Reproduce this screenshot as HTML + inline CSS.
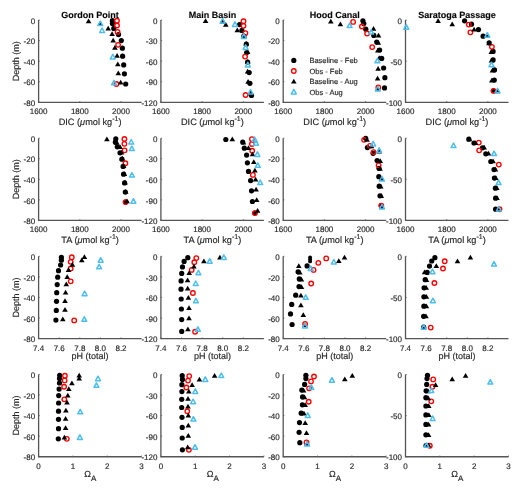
<!DOCTYPE html><html><head><meta charset="utf-8"><style>html,body{margin:0;padding:0;background:#fff;overflow:hidden}svg{display:block;filter:blur(0.35px)}text{font-family:"Liberation Sans",sans-serif;text-rendering:geometricPrecision;stroke:#262626;stroke-width:0.15px}</style></head><body>
<svg width="520" height="492" viewBox="0 0 520 492">
<rect width="520" height="492" fill="#fff"/>
<path d="M38.6,20 V102.3 H141.6" fill="none" stroke="#555555" stroke-width="1.3"/>
<path d="M38.6,20 h1.2" stroke="#555555" stroke-width="0.8"/>
<text x="35.1" y="23.7" font-size="8" fill="#262626" text-anchor="end">0</text>
<path d="M38.6,40.58 h1.2" stroke="#555555" stroke-width="0.8"/>
<text x="35.1" y="44.28" font-size="8" fill="#262626" text-anchor="end">-20</text>
<path d="M38.6,61.15 h1.2" stroke="#555555" stroke-width="0.8"/>
<text x="35.1" y="64.85" font-size="8" fill="#262626" text-anchor="end">-40</text>
<path d="M38.6,81.72 h1.2" stroke="#555555" stroke-width="0.8"/>
<text x="35.1" y="85.42" font-size="8" fill="#262626" text-anchor="end">-60</text>
<path d="M38.6,102.3 h1.2" stroke="#555555" stroke-width="0.8"/>
<text x="35.1" y="106" font-size="8" fill="#262626" text-anchor="end">-80</text>
<path d="M38.6,102.3 v-1.2" stroke="#555555" stroke-width="0.8"/>
<text x="38.6" y="114.2" font-size="8" fill="#262626" text-anchor="middle">1600</text>
<path d="M79.8,102.3 v-1.2" stroke="#555555" stroke-width="0.8"/>
<text x="79.8" y="114.2" font-size="8" fill="#262626" text-anchor="middle">1800</text>
<path d="M121,102.3 v-1.2" stroke="#555555" stroke-width="0.8"/>
<text x="121" y="114.2" font-size="8" fill="#262626" text-anchor="middle">2000</text>
<circle cx="112.4" cy="20.7" r="2.6" fill="#000"/>
<circle cx="112.4" cy="23.5" r="2.6" fill="#000"/>
<circle cx="113.8" cy="28.4" r="2.6" fill="#000"/>
<circle cx="118.5" cy="34.6" r="2.6" fill="#000"/>
<circle cx="121.3" cy="40.6" r="2.6" fill="#000"/>
<circle cx="122.4" cy="48.2" r="2.6" fill="#000"/>
<circle cx="122.6" cy="56.2" r="2.6" fill="#000"/>
<circle cx="123.7" cy="64.9" r="2.6" fill="#000"/>
<circle cx="124.4" cy="73.8" r="2.6" fill="#000"/>
<circle cx="125.7" cy="84" r="2.6" fill="#000"/>
<circle cx="117" cy="20.7" r="2.25" fill="none" stroke="#FF0000" stroke-width="1.35"/>
<circle cx="117" cy="25.5" r="2.25" fill="none" stroke="#FF0000" stroke-width="1.35"/>
<circle cx="117.6" cy="31.9" r="2.25" fill="none" stroke="#FF0000" stroke-width="1.35"/>
<circle cx="118.1" cy="44.8" r="2.25" fill="none" stroke="#FF0000" stroke-width="1.35"/>
<circle cx="116.4" cy="84" r="2.25" fill="none" stroke="#FF0000" stroke-width="1.35"/>
<path d="M88.6,18.55L91.4,23.3H85.8Z" fill="#000"/>
<path d="M100.3,21.25L103.1,26H97.5Z" fill="#000"/>
<path d="M108.2,25.65L111,30.4H105.4Z" fill="#000"/>
<path d="M112.1,31.25L114.9,36H109.3Z" fill="#000"/>
<path d="M113.2,37.85L116,42.6H110.4Z" fill="#000"/>
<path d="M114.9,45.05L117.7,49.8H112.1Z" fill="#000"/>
<path d="M117.1,52.95L119.9,57.7H114.3Z" fill="#000"/>
<path d="M117.8,61.55L120.6,66.3H115Z" fill="#000"/>
<path d="M118.3,70.55L121.1,75.3H115.5Z" fill="#000"/>
<path d="M120.7,79.85L123.5,84.6H117.9Z" fill="#000"/>
<path d="M100.3,21.1L102.75,25.6H97.85Z" fill="none" stroke="#4DBEEE" stroke-width="1.5" stroke-linejoin="round"/>
<path d="M102.1,28L104.55,32.5H99.65Z" fill="none" stroke="#4DBEEE" stroke-width="1.5" stroke-linejoin="round"/>
<path d="M112.8,54.4L115.25,58.9H110.35Z" fill="none" stroke="#4DBEEE" stroke-width="1.5" stroke-linejoin="round"/>
<path d="M114,80.3L116.45,84.8H111.55Z" fill="none" stroke="#4DBEEE" stroke-width="1.5" stroke-linejoin="round"/>
<text x="90.1" y="124.9" font-size="9.2" fill="#262626" text-anchor="middle">DIC (<tspan font-style="italic">μ</tspan>mol kg<tspan font-size="7" dy="-4.3">-1</tspan><tspan dy="4.3">)</tspan></text>
<text transform="translate(19.2,61.15) rotate(-90)" x="0" y="0" font-size="9" fill="#262626" text-anchor="middle">Depth (m)</text>
<path d="M160.9,20 V102.3 H263.9" fill="none" stroke="#555555" stroke-width="1.3"/>
<path d="M160.9,20 h1.2" stroke="#555555" stroke-width="0.8"/>
<text x="157.4" y="23.7" font-size="8" fill="#262626" text-anchor="end">0</text>
<path d="M160.9,40.58 h1.2" stroke="#555555" stroke-width="0.8"/>
<text x="157.4" y="44.28" font-size="8" fill="#262626" text-anchor="end">-30</text>
<path d="M160.9,61.15 h1.2" stroke="#555555" stroke-width="0.8"/>
<text x="157.4" y="64.85" font-size="8" fill="#262626" text-anchor="end">-60</text>
<path d="M160.9,81.72 h1.2" stroke="#555555" stroke-width="0.8"/>
<text x="157.4" y="85.42" font-size="8" fill="#262626" text-anchor="end">-90</text>
<path d="M160.9,102.3 h1.2" stroke="#555555" stroke-width="0.8"/>
<text x="157.4" y="106" font-size="8" fill="#262626" text-anchor="end">-120</text>
<path d="M160.9,102.3 v-1.2" stroke="#555555" stroke-width="0.8"/>
<text x="160.9" y="114.2" font-size="8" fill="#262626" text-anchor="middle">1600</text>
<path d="M202.1,102.3 v-1.2" stroke="#555555" stroke-width="0.8"/>
<text x="202.1" y="114.2" font-size="8" fill="#262626" text-anchor="middle">1800</text>
<path d="M243.3,102.3 v-1.2" stroke="#555555" stroke-width="0.8"/>
<text x="243.3" y="114.2" font-size="8" fill="#262626" text-anchor="middle">2000</text>
<circle cx="239.6" cy="24.6" r="2.6" fill="#000"/>
<circle cx="241.9" cy="30.4" r="2.6" fill="#000"/>
<circle cx="243.8" cy="36.2" r="2.6" fill="#000"/>
<circle cx="246.3" cy="44.2" r="2.6" fill="#000"/>
<circle cx="246.7" cy="52.6" r="2.6" fill="#000"/>
<circle cx="247.6" cy="62.2" r="2.6" fill="#000"/>
<circle cx="249.2" cy="72.6" r="2.6" fill="#000"/>
<circle cx="249.9" cy="83.3" r="2.6" fill="#000"/>
<circle cx="251.5" cy="95.4" r="2.6" fill="#000"/>
<circle cx="243.5" cy="21.2" r="2.25" fill="none" stroke="#FF0000" stroke-width="1.35"/>
<circle cx="243.5" cy="25.8" r="2.25" fill="none" stroke="#FF0000" stroke-width="1.35"/>
<circle cx="245.4" cy="33.1" r="2.25" fill="none" stroke="#FF0000" stroke-width="1.35"/>
<circle cx="245.1" cy="56.6" r="2.25" fill="none" stroke="#FF0000" stroke-width="1.35"/>
<circle cx="245.6" cy="95" r="2.25" fill="none" stroke="#FF0000" stroke-width="1.35"/>
<path d="M205.6,18.25L208.4,23H202.8Z" fill="#000"/>
<path d="M222.3,18.65L225.1,23.4H219.5Z" fill="#000"/>
<path d="M225.8,22.05L228.6,26.8H223Z" fill="#000"/>
<path d="M237.3,27.45L240.1,32.2H234.5Z" fill="#000"/>
<path d="M244,33.25L246.8,38H241.2Z" fill="#000"/>
<path d="M246.2,40.95L249,45.7H243.4Z" fill="#000"/>
<path d="M247.6,49.35L250.4,54.1H244.8Z" fill="#000"/>
<path d="M247.8,58.95L250.6,63.7H245Z" fill="#000"/>
<path d="M247.6,68.65L250.4,73.4H244.8Z" fill="#000"/>
<path d="M248.1,78.95L250.9,83.7H245.3Z" fill="#000"/>
<path d="M250.6,90.45L253.4,95.2H247.8Z" fill="#000"/>
<path d="M222.7,18.5L225.15,23H220.25Z" fill="none" stroke="#4DBEEE" stroke-width="1.5" stroke-linejoin="round"/>
<path d="M235,21.9L237.45,26.4H232.55Z" fill="none" stroke="#4DBEEE" stroke-width="1.5" stroke-linejoin="round"/>
<path d="M243.8,33.9L246.25,38.4H241.35Z" fill="none" stroke="#4DBEEE" stroke-width="1.5" stroke-linejoin="round"/>
<path d="M245.6,44.9L248.05,49.4H243.15Z" fill="none" stroke="#4DBEEE" stroke-width="1.5" stroke-linejoin="round"/>
<path d="M247.8,62.4L250.25,66.9H245.35Z" fill="none" stroke="#4DBEEE" stroke-width="1.5" stroke-linejoin="round"/>
<path d="M250.6,89.5L253.05,94H248.15Z" fill="none" stroke="#4DBEEE" stroke-width="1.5" stroke-linejoin="round"/>
<text x="212.4" y="124.9" font-size="9.2" fill="#262626" text-anchor="middle">DIC (<tspan font-style="italic">μ</tspan>mol kg<tspan font-size="7" dy="-4.3">-1</tspan><tspan dy="4.3">)</tspan></text>
<path d="M283.2,20 V102.3 H386.2" fill="none" stroke="#555555" stroke-width="1.3"/>
<path d="M283.2,20 h1.2" stroke="#555555" stroke-width="0.8"/>
<text x="279.7" y="23.7" font-size="8" fill="#262626" text-anchor="end">0</text>
<path d="M283.2,40.58 h1.2" stroke="#555555" stroke-width="0.8"/>
<text x="279.7" y="44.28" font-size="8" fill="#262626" text-anchor="end">-20</text>
<path d="M283.2,61.15 h1.2" stroke="#555555" stroke-width="0.8"/>
<text x="279.7" y="64.85" font-size="8" fill="#262626" text-anchor="end">-40</text>
<path d="M283.2,81.72 h1.2" stroke="#555555" stroke-width="0.8"/>
<text x="279.7" y="85.42" font-size="8" fill="#262626" text-anchor="end">-60</text>
<path d="M283.2,102.3 h1.2" stroke="#555555" stroke-width="0.8"/>
<text x="279.7" y="106" font-size="8" fill="#262626" text-anchor="end">-80</text>
<path d="M283.2,102.3 v-1.2" stroke="#555555" stroke-width="0.8"/>
<text x="283.2" y="114.2" font-size="8" fill="#262626" text-anchor="middle">1600</text>
<path d="M324.4,102.3 v-1.2" stroke="#555555" stroke-width="0.8"/>
<text x="324.4" y="114.2" font-size="8" fill="#262626" text-anchor="middle">1800</text>
<path d="M365.6,102.3 v-1.2" stroke="#555555" stroke-width="0.8"/>
<text x="365.6" y="114.2" font-size="8" fill="#262626" text-anchor="middle">2000</text>
<circle cx="362.9" cy="20.8" r="2.6" fill="#000"/>
<circle cx="363.8" cy="23.5" r="2.6" fill="#000"/>
<circle cx="365.8" cy="29.2" r="2.6" fill="#000"/>
<circle cx="373.8" cy="35.4" r="2.6" fill="#000"/>
<circle cx="376.7" cy="42.1" r="2.6" fill="#000"/>
<circle cx="379.6" cy="50" r="2.6" fill="#000"/>
<circle cx="381.7" cy="58.4" r="2.6" fill="#000"/>
<circle cx="383.6" cy="68" r="2.6" fill="#000"/>
<circle cx="384.9" cy="77.7" r="2.6" fill="#000"/>
<circle cx="384.5" cy="87.9" r="2.6" fill="#000"/>
<circle cx="353.1" cy="21.9" r="2.25" fill="none" stroke="#FF0000" stroke-width="1.35"/>
<circle cx="361.9" cy="26.5" r="2.25" fill="none" stroke="#FF0000" stroke-width="1.35"/>
<circle cx="367.1" cy="33.5" r="2.25" fill="none" stroke="#FF0000" stroke-width="1.35"/>
<circle cx="372.2" cy="47.1" r="2.25" fill="none" stroke="#FF0000" stroke-width="1.35"/>
<circle cx="378.3" cy="87.4" r="2.25" fill="none" stroke="#FF0000" stroke-width="1.35"/>
<path d="M330.8,18.65L333.6,23.4H328Z" fill="#000"/>
<path d="M340.4,21.55L343.2,26.3H337.6Z" fill="#000"/>
<path d="M373.5,25.95L376.3,30.7H370.7Z" fill="#000"/>
<path d="M378.5,32.65L381.3,37.4H375.7Z" fill="#000"/>
<path d="M378.3,39.95L381.1,44.7H375.5Z" fill="#000"/>
<path d="M377.8,47.75L380.6,52.5H375Z" fill="#000"/>
<path d="M379.2,55.25L382,60H376.4Z" fill="#000"/>
<path d="M378.1,66.05L380.9,70.8H375.3Z" fill="#000"/>
<path d="M377.6,75.65L380.4,80.4H374.8Z" fill="#000"/>
<path d="M377.8,86.05L380.6,90.8H375Z" fill="#000"/>
<path d="M349.6,23.1L352.05,27.6H347.15Z" fill="none" stroke="#4DBEEE" stroke-width="1.5" stroke-linejoin="round"/>
<path d="M371.2,29.6L373.65,34.1H368.75Z" fill="none" stroke="#4DBEEE" stroke-width="1.5" stroke-linejoin="round"/>
<path d="M377.4,58.3L379.85,62.8H374.95Z" fill="none" stroke="#4DBEEE" stroke-width="1.5" stroke-linejoin="round"/>
<path d="M377.8,86.5L380.25,91H375.35Z" fill="none" stroke="#4DBEEE" stroke-width="1.5" stroke-linejoin="round"/>
<text x="334.7" y="124.9" font-size="9.2" fill="#262626" text-anchor="middle">DIC (<tspan font-style="italic">μ</tspan>mol kg<tspan font-size="7" dy="-4.3">-1</tspan><tspan dy="4.3">)</tspan></text>
<path d="M405.5,20 V102.3 H508.5" fill="none" stroke="#555555" stroke-width="1.3"/>
<path d="M405.5,20 h1.2" stroke="#555555" stroke-width="0.8"/>
<text x="402" y="23.7" font-size="8" fill="#262626" text-anchor="end">0</text>
<path d="M405.5,61.15 h1.2" stroke="#555555" stroke-width="0.8"/>
<text x="402" y="64.85" font-size="8" fill="#262626" text-anchor="end">-50</text>
<path d="M405.5,102.3 h1.2" stroke="#555555" stroke-width="0.8"/>
<text x="402" y="106" font-size="8" fill="#262626" text-anchor="end">-100</text>
<path d="M405.5,102.3 v-1.2" stroke="#555555" stroke-width="0.8"/>
<text x="405.5" y="114.2" font-size="8" fill="#262626" text-anchor="middle">1600</text>
<path d="M446.7,102.3 v-1.2" stroke="#555555" stroke-width="0.8"/>
<text x="446.7" y="114.2" font-size="8" fill="#262626" text-anchor="middle">1800</text>
<path d="M487.9,102.3 v-1.2" stroke="#555555" stroke-width="0.8"/>
<text x="487.9" y="114.2" font-size="8" fill="#262626" text-anchor="middle">2000</text>
<circle cx="464.6" cy="20.8" r="2.6" fill="#000"/>
<circle cx="471.5" cy="24.2" r="2.6" fill="#000"/>
<circle cx="478.5" cy="29.6" r="2.6" fill="#000"/>
<circle cx="483.1" cy="36.2" r="2.6" fill="#000"/>
<circle cx="489.2" cy="42.8" r="2.6" fill="#000"/>
<circle cx="493.1" cy="51.4" r="2.6" fill="#000"/>
<circle cx="493.1" cy="59.9" r="2.6" fill="#000"/>
<circle cx="494.5" cy="69.9" r="2.6" fill="#000"/>
<circle cx="494.3" cy="80.1" r="2.6" fill="#000"/>
<circle cx="493.5" cy="90.8" r="2.6" fill="#000"/>
<circle cx="468.8" cy="24.6" r="2.25" fill="none" stroke="#FF0000" stroke-width="1.35"/>
<circle cx="470.4" cy="32.3" r="2.25" fill="none" stroke="#FF0000" stroke-width="1.35"/>
<circle cx="491.9" cy="46.8" r="2.25" fill="none" stroke="#FF0000" stroke-width="1.35"/>
<circle cx="493.5" cy="90.8" r="2.25" fill="none" stroke="#FF0000" stroke-width="1.35"/>
<path d="M438.1,18.15L440.9,22.9H435.3Z" fill="#000"/>
<path d="M452.2,21.55L455,26.3H449.4Z" fill="#000"/>
<path d="M474.1,26.65L476.9,31.4H471.3Z" fill="#000"/>
<path d="M487.3,32.85L490.1,37.6H484.5Z" fill="#000"/>
<path d="M489,40.45L491.8,45.2H486.2Z" fill="#000"/>
<path d="M491.3,49.15L494.1,53.9H488.5Z" fill="#000"/>
<path d="M491.5,57.65L494.3,62.4H488.7Z" fill="#000"/>
<path d="M492.4,67.65L495.2,72.4H489.6Z" fill="#000"/>
<path d="M491.8,77.65L494.6,82.4H489Z" fill="#000"/>
<path d="M497.6,88.45L500.4,93.2H494.8Z" fill="#000"/>
<path d="M406.3,24.7L408.75,29.2H403.85Z" fill="none" stroke="#4DBEEE" stroke-width="1.5" stroke-linejoin="round"/>
<path d="M487.3,32.7L489.75,37.2H484.85Z" fill="none" stroke="#4DBEEE" stroke-width="1.5" stroke-linejoin="round"/>
<path d="M491.5,62.2L493.95,66.7H489.05Z" fill="none" stroke="#4DBEEE" stroke-width="1.5" stroke-linejoin="round"/>
<path d="M497.6,88.3L500.05,92.8H495.15Z" fill="none" stroke="#4DBEEE" stroke-width="1.5" stroke-linejoin="round"/>
<text x="457" y="124.9" font-size="9.2" fill="#262626" text-anchor="middle">DIC (<tspan font-style="italic">μ</tspan>mol kg<tspan font-size="7" dy="-4.3">-1</tspan><tspan dy="4.3">)</tspan></text>
<path d="M38.6,138.15 V220.45 H141.6" fill="none" stroke="#555555" stroke-width="1.3"/>
<path d="M38.6,138.15 h1.2" stroke="#555555" stroke-width="0.8"/>
<text x="35.1" y="141.85" font-size="8" fill="#262626" text-anchor="end">0</text>
<path d="M38.6,158.72 h1.2" stroke="#555555" stroke-width="0.8"/>
<text x="35.1" y="162.42" font-size="8" fill="#262626" text-anchor="end">-20</text>
<path d="M38.6,179.3 h1.2" stroke="#555555" stroke-width="0.8"/>
<text x="35.1" y="183" font-size="8" fill="#262626" text-anchor="end">-40</text>
<path d="M38.6,199.88 h1.2" stroke="#555555" stroke-width="0.8"/>
<text x="35.1" y="203.57" font-size="8" fill="#262626" text-anchor="end">-60</text>
<path d="M38.6,220.45 h1.2" stroke="#555555" stroke-width="0.8"/>
<text x="35.1" y="224.15" font-size="8" fill="#262626" text-anchor="end">-80</text>
<path d="M38.6,220.45 v-1.2" stroke="#555555" stroke-width="0.8"/>
<text x="38.6" y="232.35" font-size="8" fill="#262626" text-anchor="middle">1600</text>
<path d="M79.8,220.45 v-1.2" stroke="#555555" stroke-width="0.8"/>
<text x="79.8" y="232.35" font-size="8" fill="#262626" text-anchor="middle">1800</text>
<path d="M121,220.45 v-1.2" stroke="#555555" stroke-width="0.8"/>
<text x="121" y="232.35" font-size="8" fill="#262626" text-anchor="middle">2000</text>
<circle cx="115.8" cy="138.8" r="2.6" fill="#000"/>
<circle cx="115.4" cy="142.2" r="2.6" fill="#000"/>
<circle cx="117.3" cy="146.8" r="2.6" fill="#000"/>
<circle cx="120" cy="152.8" r="2.6" fill="#000"/>
<circle cx="121.9" cy="159.2" r="2.6" fill="#000"/>
<circle cx="123.1" cy="166.4" r="2.6" fill="#000"/>
<circle cx="123.6" cy="174.2" r="2.6" fill="#000"/>
<circle cx="124.6" cy="182.9" r="2.6" fill="#000"/>
<circle cx="125.3" cy="192.1" r="2.6" fill="#000"/>
<circle cx="125.6" cy="202.1" r="2.6" fill="#000"/>
<circle cx="124.4" cy="139" r="2.25" fill="none" stroke="#FF0000" stroke-width="1.35"/>
<circle cx="124.4" cy="143.8" r="2.25" fill="none" stroke="#FF0000" stroke-width="1.35"/>
<circle cx="124.6" cy="150.3" r="2.25" fill="none" stroke="#FF0000" stroke-width="1.35"/>
<circle cx="125.4" cy="163.2" r="2.25" fill="none" stroke="#FF0000" stroke-width="1.35"/>
<circle cx="125.6" cy="202.1" r="2.25" fill="none" stroke="#FF0000" stroke-width="1.35"/>
<path d="M106.9,136.45L109.7,141.2H104.1Z" fill="#000"/>
<path d="M116.9,140.05L119.7,144.8H114.1Z" fill="#000"/>
<path d="M120,144.25L122.8,149H117.2Z" fill="#000"/>
<path d="M121.5,149.65L124.3,154.4H118.7Z" fill="#000"/>
<path d="M122.3,155.85L125.1,160.6H119.5Z" fill="#000"/>
<path d="M123.6,163.25L126.4,168H120.8Z" fill="#000"/>
<path d="M124.4,171.25L127.2,176H121.6Z" fill="#000"/>
<path d="M125.1,179.75L127.9,184.5H122.3Z" fill="#000"/>
<path d="M125.8,189.05L128.6,193.8H123Z" fill="#000"/>
<path d="M127,198.45L129.8,203.2H124.2Z" fill="#000"/>
<path d="M131.2,139.5L133.65,144H128.75Z" fill="none" stroke="#4DBEEE" stroke-width="1.5" stroke-linejoin="round"/>
<path d="M131.8,146.1L134.25,150.6H129.35Z" fill="none" stroke="#4DBEEE" stroke-width="1.5" stroke-linejoin="round"/>
<path d="M131.9,172.6L134.35,177.1H129.45Z" fill="none" stroke="#4DBEEE" stroke-width="1.5" stroke-linejoin="round"/>
<path d="M133.4,198.7L135.85,203.2H130.95Z" fill="none" stroke="#4DBEEE" stroke-width="1.5" stroke-linejoin="round"/>
<text x="90.1" y="243.05" font-size="9.2" fill="#262626" text-anchor="middle">TA (<tspan font-style="italic">μ</tspan>mol kg<tspan font-size="7" dy="-4.3">-1</tspan><tspan dy="4.3">)</tspan></text>
<text transform="translate(19.2,179.3) rotate(-90)" x="0" y="0" font-size="9" fill="#262626" text-anchor="middle">Depth (m)</text>
<path d="M160.9,138.15 V220.45 H263.9" fill="none" stroke="#555555" stroke-width="1.3"/>
<path d="M160.9,138.15 h1.2" stroke="#555555" stroke-width="0.8"/>
<text x="157.4" y="141.85" font-size="8" fill="#262626" text-anchor="end">0</text>
<path d="M160.9,158.72 h1.2" stroke="#555555" stroke-width="0.8"/>
<text x="157.4" y="162.42" font-size="8" fill="#262626" text-anchor="end">-30</text>
<path d="M160.9,179.3 h1.2" stroke="#555555" stroke-width="0.8"/>
<text x="157.4" y="183" font-size="8" fill="#262626" text-anchor="end">-60</text>
<path d="M160.9,199.88 h1.2" stroke="#555555" stroke-width="0.8"/>
<text x="157.4" y="203.57" font-size="8" fill="#262626" text-anchor="end">-90</text>
<path d="M160.9,220.45 h1.2" stroke="#555555" stroke-width="0.8"/>
<text x="157.4" y="224.15" font-size="8" fill="#262626" text-anchor="end">-120</text>
<path d="M160.9,220.45 v-1.2" stroke="#555555" stroke-width="0.8"/>
<text x="160.9" y="232.35" font-size="8" fill="#262626" text-anchor="middle">1600</text>
<path d="M202.1,220.45 v-1.2" stroke="#555555" stroke-width="0.8"/>
<text x="202.1" y="232.35" font-size="8" fill="#262626" text-anchor="middle">1800</text>
<path d="M243.3,220.45 v-1.2" stroke="#555555" stroke-width="0.8"/>
<text x="243.3" y="232.35" font-size="8" fill="#262626" text-anchor="middle">2000</text>
<circle cx="225.8" cy="139.5" r="2.6" fill="#000"/>
<circle cx="242.7" cy="142.1" r="2.6" fill="#000"/>
<circle cx="244.3" cy="148.2" r="2.6" fill="#000"/>
<circle cx="246.6" cy="155.1" r="2.6" fill="#000"/>
<circle cx="247.4" cy="162.8" r="2.6" fill="#000"/>
<circle cx="248.5" cy="171.4" r="2.6" fill="#000"/>
<circle cx="250.6" cy="180.6" r="2.6" fill="#000"/>
<circle cx="251.5" cy="190.8" r="2.6" fill="#000"/>
<circle cx="252.4" cy="201.5" r="2.6" fill="#000"/>
<circle cx="254.9" cy="213" r="2.6" fill="#000"/>
<circle cx="251.9" cy="139.1" r="2.25" fill="none" stroke="#FF0000" stroke-width="1.35"/>
<circle cx="251.9" cy="144" r="2.25" fill="none" stroke="#FF0000" stroke-width="1.35"/>
<circle cx="252.2" cy="150.7" r="2.25" fill="none" stroke="#FF0000" stroke-width="1.35"/>
<circle cx="252.9" cy="174.9" r="2.25" fill="none" stroke="#FF0000" stroke-width="1.35"/>
<circle cx="254.9" cy="213.1" r="2.25" fill="none" stroke="#FF0000" stroke-width="1.35"/>
<path d="M232.3,136.45L235.1,141.2H229.5Z" fill="#000"/>
<path d="M243.5,139.75L246.3,144.5H240.7Z" fill="#000"/>
<path d="M248.5,145.25L251.3,150H245.7Z" fill="#000"/>
<path d="M252.5,151.55L255.3,156.3H249.7Z" fill="#000"/>
<path d="M253.8,159.25L256.6,164H251Z" fill="#000"/>
<path d="M254.9,167.75L257.7,172.5H252.1Z" fill="#000"/>
<path d="M255.6,176.65L258.4,181.4H252.8Z" fill="#000"/>
<path d="M256.1,186.75L258.9,191.5H253.3Z" fill="#000"/>
<path d="M256.7,197.35L259.5,202.1H253.9Z" fill="#000"/>
<path d="M257.6,208.05L260.4,212.8H254.8Z" fill="#000"/>
<path d="M254.6,137L257.05,141.5H252.15Z" fill="none" stroke="#4DBEEE" stroke-width="1.5" stroke-linejoin="round"/>
<path d="M256,140.7L258.45,145.2H253.55Z" fill="none" stroke="#4DBEEE" stroke-width="1.5" stroke-linejoin="round"/>
<path d="M257.4,151.9L259.85,156.4H254.95Z" fill="none" stroke="#4DBEEE" stroke-width="1.5" stroke-linejoin="round"/>
<path d="M257.8,162.8L260.25,167.3H255.35Z" fill="none" stroke="#4DBEEE" stroke-width="1.5" stroke-linejoin="round"/>
<path d="M260.2,180.1L262.65,184.6H257.75Z" fill="none" stroke="#4DBEEE" stroke-width="1.5" stroke-linejoin="round"/>
<text x="212.4" y="243.05" font-size="9.2" fill="#262626" text-anchor="middle">TA (<tspan font-style="italic">μ</tspan>mol kg<tspan font-size="7" dy="-4.3">-1</tspan><tspan dy="4.3">)</tspan></text>
<path d="M283.2,138.15 V220.45 H386.2" fill="none" stroke="#555555" stroke-width="1.3"/>
<path d="M283.2,138.15 h1.2" stroke="#555555" stroke-width="0.8"/>
<text x="279.7" y="141.85" font-size="8" fill="#262626" text-anchor="end">0</text>
<path d="M283.2,158.72 h1.2" stroke="#555555" stroke-width="0.8"/>
<text x="279.7" y="162.42" font-size="8" fill="#262626" text-anchor="end">-20</text>
<path d="M283.2,179.3 h1.2" stroke="#555555" stroke-width="0.8"/>
<text x="279.7" y="183" font-size="8" fill="#262626" text-anchor="end">-40</text>
<path d="M283.2,199.88 h1.2" stroke="#555555" stroke-width="0.8"/>
<text x="279.7" y="203.57" font-size="8" fill="#262626" text-anchor="end">-60</text>
<path d="M283.2,220.45 h1.2" stroke="#555555" stroke-width="0.8"/>
<text x="279.7" y="224.15" font-size="8" fill="#262626" text-anchor="end">-80</text>
<path d="M283.2,220.45 v-1.2" stroke="#555555" stroke-width="0.8"/>
<text x="283.2" y="232.35" font-size="8" fill="#262626" text-anchor="middle">1600</text>
<path d="M324.4,220.45 v-1.2" stroke="#555555" stroke-width="0.8"/>
<text x="324.4" y="232.35" font-size="8" fill="#262626" text-anchor="middle">1800</text>
<path d="M365.6,220.45 v-1.2" stroke="#555555" stroke-width="0.8"/>
<text x="365.6" y="232.35" font-size="8" fill="#262626" text-anchor="middle">2000</text>
<circle cx="365.7" cy="138.3" r="2.6" fill="#000"/>
<circle cx="367.4" cy="147.6" r="2.6" fill="#000"/>
<circle cx="373.1" cy="153.3" r="2.6" fill="#000"/>
<circle cx="377.1" cy="160.6" r="2.6" fill="#000"/>
<circle cx="379" cy="168.3" r="2.6" fill="#000"/>
<circle cx="378.8" cy="176.7" r="2.6" fill="#000"/>
<circle cx="379.2" cy="186.2" r="2.6" fill="#000"/>
<circle cx="380" cy="195.8" r="2.6" fill="#000"/>
<circle cx="381.3" cy="205.6" r="2.6" fill="#000"/>
<circle cx="364.1" cy="139.8" r="2.25" fill="none" stroke="#FF0000" stroke-width="1.35"/>
<circle cx="369.9" cy="145.8" r="2.25" fill="none" stroke="#FF0000" stroke-width="1.35"/>
<circle cx="373.6" cy="152.1" r="2.25" fill="none" stroke="#FF0000" stroke-width="1.35"/>
<circle cx="378.6" cy="165.3" r="2.25" fill="none" stroke="#FF0000" stroke-width="1.35"/>
<circle cx="381.3" cy="205.6" r="2.25" fill="none" stroke="#FF0000" stroke-width="1.35"/>
<path d="M367,136.95L369.8,141.7H364.2Z" fill="#000"/>
<path d="M371.5,143.45L374.3,148.2H368.7Z" fill="#000"/>
<path d="M379.2,148.75L382,153.5H376.4Z" fill="#000"/>
<path d="M380.2,158.25L383,163H377.4Z" fill="#000"/>
<path d="M380,165.95L382.8,170.7H377.2Z" fill="#000"/>
<path d="M381.5,175.95L384.3,180.7H378.7Z" fill="#000"/>
<path d="M380.8,183.65L383.6,188.4H378Z" fill="#000"/>
<path d="M381.3,193.25L384.1,198H378.5Z" fill="#000"/>
<path d="M382,203.95L384.8,208.7H379.2Z" fill="#000"/>
<path d="M373.1,141.4L375.55,145.9H370.65Z" fill="none" stroke="#4DBEEE" stroke-width="1.5" stroke-linejoin="round"/>
<path d="M379.2,147.8L381.65,152.3H376.75Z" fill="none" stroke="#4DBEEE" stroke-width="1.5" stroke-linejoin="round"/>
<path d="M382,176.5L384.45,181H379.55Z" fill="none" stroke="#4DBEEE" stroke-width="1.5" stroke-linejoin="round"/>
<path d="M382,204.4L384.45,208.9H379.55Z" fill="none" stroke="#4DBEEE" stroke-width="1.5" stroke-linejoin="round"/>
<text x="334.7" y="243.05" font-size="9.2" fill="#262626" text-anchor="middle">TA (<tspan font-style="italic">μ</tspan>mol kg<tspan font-size="7" dy="-4.3">-1</tspan><tspan dy="4.3">)</tspan></text>
<path d="M405.5,138.15 V220.45 H508.5" fill="none" stroke="#555555" stroke-width="1.3"/>
<path d="M405.5,138.15 h1.2" stroke="#555555" stroke-width="0.8"/>
<text x="402" y="141.85" font-size="8" fill="#262626" text-anchor="end">0</text>
<path d="M405.5,179.3 h1.2" stroke="#555555" stroke-width="0.8"/>
<text x="402" y="183" font-size="8" fill="#262626" text-anchor="end">-50</text>
<path d="M405.5,220.45 h1.2" stroke="#555555" stroke-width="0.8"/>
<text x="402" y="224.15" font-size="8" fill="#262626" text-anchor="end">-100</text>
<path d="M405.5,220.45 v-1.2" stroke="#555555" stroke-width="0.8"/>
<text x="405.5" y="232.35" font-size="8" fill="#262626" text-anchor="middle">1600</text>
<path d="M446.7,220.45 v-1.2" stroke="#555555" stroke-width="0.8"/>
<text x="446.7" y="232.35" font-size="8" fill="#262626" text-anchor="middle">1800</text>
<path d="M487.9,220.45 v-1.2" stroke="#555555" stroke-width="0.8"/>
<text x="487.9" y="232.35" font-size="8" fill="#262626" text-anchor="middle">2000</text>
<circle cx="468.8" cy="139.2" r="2.6" fill="#000"/>
<circle cx="474" cy="143" r="2.6" fill="#000"/>
<circle cx="482.5" cy="147.8" r="2.6" fill="#000"/>
<circle cx="485.8" cy="153.8" r="2.6" fill="#000"/>
<circle cx="490.8" cy="161.5" r="2.6" fill="#000"/>
<circle cx="494" cy="169.6" r="2.6" fill="#000"/>
<circle cx="494.4" cy="178.1" r="2.6" fill="#000"/>
<circle cx="495.4" cy="188.2" r="2.6" fill="#000"/>
<circle cx="495.6" cy="198.2" r="2.6" fill="#000"/>
<circle cx="495.6" cy="209.2" r="2.6" fill="#000"/>
<circle cx="478.8" cy="142.6" r="2.25" fill="none" stroke="#FF0000" stroke-width="1.35"/>
<circle cx="479.2" cy="150.3" r="2.25" fill="none" stroke="#FF0000" stroke-width="1.35"/>
<circle cx="498.8" cy="164.6" r="2.25" fill="none" stroke="#FF0000" stroke-width="1.35"/>
<circle cx="499.5" cy="209.2" r="2.25" fill="none" stroke="#FF0000" stroke-width="1.35"/>
<path d="M469.5,136.45L472.3,141.2H466.7Z" fill="#000"/>
<path d="M475.5,140.25L478.3,145H472.7Z" fill="#000"/>
<path d="M484.2,144.85L487,149.6H481.4Z" fill="#000"/>
<path d="M488.5,150.85L491.3,155.6H485.7Z" fill="#000"/>
<path d="M493.1,158.55L495.9,163.3H490.3Z" fill="#000"/>
<path d="M495.5,166.85L498.3,171.6H492.7Z" fill="#000"/>
<path d="M495.8,175.35L498.6,180.1H493Z" fill="#000"/>
<path d="M496.8,185.35L499.6,190.1H494Z" fill="#000"/>
<path d="M497,195.35L499.8,200.1H494.2Z" fill="#000"/>
<path d="M498.5,206.45L501.3,211.2H495.7Z" fill="#000"/>
<path d="M453.5,143L455.95,147.5H451.05Z" fill="none" stroke="#4DBEEE" stroke-width="1.5" stroke-linejoin="round"/>
<path d="M494.1,151.1L496.55,155.6H491.65Z" fill="none" stroke="#4DBEEE" stroke-width="1.5" stroke-linejoin="round"/>
<path d="M498.6,180.1L501.05,184.6H496.15Z" fill="none" stroke="#4DBEEE" stroke-width="1.5" stroke-linejoin="round"/>
<path d="M498.8,206.5L501.25,211H496.35Z" fill="none" stroke="#4DBEEE" stroke-width="1.5" stroke-linejoin="round"/>
<text x="457" y="243.05" font-size="9.2" fill="#262626" text-anchor="middle">TA (<tspan font-style="italic">μ</tspan>mol kg<tspan font-size="7" dy="-4.3">-1</tspan><tspan dy="4.3">)</tspan></text>
<path d="M38.6,256.3 V338.6 H141.6" fill="none" stroke="#555555" stroke-width="1.3"/>
<path d="M38.6,256.3 h1.2" stroke="#555555" stroke-width="0.8"/>
<text x="35.1" y="260" font-size="8" fill="#262626" text-anchor="end">0</text>
<path d="M38.6,276.88 h1.2" stroke="#555555" stroke-width="0.8"/>
<text x="35.1" y="280.57" font-size="8" fill="#262626" text-anchor="end">-20</text>
<path d="M38.6,297.45 h1.2" stroke="#555555" stroke-width="0.8"/>
<text x="35.1" y="301.15" font-size="8" fill="#262626" text-anchor="end">-40</text>
<path d="M38.6,318.02 h1.2" stroke="#555555" stroke-width="0.8"/>
<text x="35.1" y="321.72" font-size="8" fill="#262626" text-anchor="end">-60</text>
<path d="M38.6,338.6 h1.2" stroke="#555555" stroke-width="0.8"/>
<text x="35.1" y="342.3" font-size="8" fill="#262626" text-anchor="end">-80</text>
<path d="M38.6,338.6 v-1.2" stroke="#555555" stroke-width="0.8"/>
<text x="38.6" y="350.5" font-size="8" fill="#262626" text-anchor="middle">7.4</text>
<path d="M59.2,338.6 v-1.2" stroke="#555555" stroke-width="0.8"/>
<text x="59.2" y="350.5" font-size="8" fill="#262626" text-anchor="middle">7.6</text>
<path d="M79.8,338.6 v-1.2" stroke="#555555" stroke-width="0.8"/>
<text x="79.8" y="350.5" font-size="8" fill="#262626" text-anchor="middle">7.8</text>
<path d="M100.4,338.6 v-1.2" stroke="#555555" stroke-width="0.8"/>
<text x="100.4" y="350.5" font-size="8" fill="#262626" text-anchor="middle">8.0</text>
<path d="M121,338.6 v-1.2" stroke="#555555" stroke-width="0.8"/>
<text x="121" y="350.5" font-size="8" fill="#262626" text-anchor="middle">8.2</text>
<circle cx="61.4" cy="257.3" r="2.6" fill="#000"/>
<circle cx="61.4" cy="260.2" r="2.6" fill="#000"/>
<circle cx="60.6" cy="265" r="2.6" fill="#000"/>
<circle cx="58.5" cy="270.7" r="2.6" fill="#000"/>
<circle cx="57.7" cy="277.2" r="2.6" fill="#000"/>
<circle cx="57.2" cy="284.6" r="2.6" fill="#000"/>
<circle cx="56.7" cy="292.7" r="2.6" fill="#000"/>
<circle cx="56.5" cy="301.3" r="2.6" fill="#000"/>
<circle cx="56.3" cy="310.4" r="2.6" fill="#000"/>
<circle cx="55.9" cy="320.1" r="2.6" fill="#000"/>
<circle cx="71.8" cy="257.3" r="2.25" fill="none" stroke="#FF0000" stroke-width="1.35"/>
<circle cx="70.7" cy="261.8" r="2.25" fill="none" stroke="#FF0000" stroke-width="1.35"/>
<circle cx="70.7" cy="268.5" r="2.25" fill="none" stroke="#FF0000" stroke-width="1.35"/>
<circle cx="70.7" cy="281.3" r="2.25" fill="none" stroke="#FF0000" stroke-width="1.35"/>
<circle cx="74.2" cy="320.4" r="2.25" fill="none" stroke="#FF0000" stroke-width="1.35"/>
<path d="M84.4,254.35L87.2,259.1H81.6Z" fill="#000"/>
<path d="M81.8,257.45L84.6,262.2H79Z" fill="#000"/>
<path d="M72.4,262.05L75.2,266.8H69.6Z" fill="#000"/>
<path d="M68.5,267.35L71.3,272.1H65.7Z" fill="#000"/>
<path d="M67.2,274.25L70,279H64.4Z" fill="#000"/>
<path d="M66.3,281.55L69.1,286.3H63.5Z" fill="#000"/>
<path d="M65.6,289.75L68.4,294.5H62.8Z" fill="#000"/>
<path d="M65,298.35L67.8,303.1H62.2Z" fill="#000"/>
<path d="M65,307.05L67.8,311.8H62.2Z" fill="#000"/>
<path d="M62.8,316.55L65.6,321.3H60Z" fill="#000"/>
<path d="M100.7,257.7L103.15,262.2H98.25Z" fill="none" stroke="#4DBEEE" stroke-width="1.5" stroke-linejoin="round"/>
<path d="M99.1,264.3L101.55,268.8H96.65Z" fill="none" stroke="#4DBEEE" stroke-width="1.5" stroke-linejoin="round"/>
<path d="M84.6,291.2L87.05,295.7H82.15Z" fill="none" stroke="#4DBEEE" stroke-width="1.5" stroke-linejoin="round"/>
<path d="M84.3,316.8L86.75,321.3H81.85Z" fill="none" stroke="#4DBEEE" stroke-width="1.5" stroke-linejoin="round"/>
<text x="90.1" y="358.6" font-size="9" fill="#262626" text-anchor="middle">pH (total)</text>
<text transform="translate(19.2,297.45) rotate(-90)" x="0" y="0" font-size="9" fill="#262626" text-anchor="middle">Depth (m)</text>
<path d="M160.9,256.3 V338.6 H263.9" fill="none" stroke="#555555" stroke-width="1.3"/>
<path d="M160.9,256.3 h1.2" stroke="#555555" stroke-width="0.8"/>
<text x="157.4" y="260" font-size="8" fill="#262626" text-anchor="end">0</text>
<path d="M160.9,276.88 h1.2" stroke="#555555" stroke-width="0.8"/>
<text x="157.4" y="280.57" font-size="8" fill="#262626" text-anchor="end">-30</text>
<path d="M160.9,297.45 h1.2" stroke="#555555" stroke-width="0.8"/>
<text x="157.4" y="301.15" font-size="8" fill="#262626" text-anchor="end">-60</text>
<path d="M160.9,318.02 h1.2" stroke="#555555" stroke-width="0.8"/>
<text x="157.4" y="321.72" font-size="8" fill="#262626" text-anchor="end">-90</text>
<path d="M160.9,338.6 h1.2" stroke="#555555" stroke-width="0.8"/>
<text x="157.4" y="342.3" font-size="8" fill="#262626" text-anchor="end">-120</text>
<path d="M160.9,338.6 v-1.2" stroke="#555555" stroke-width="0.8"/>
<text x="160.9" y="350.5" font-size="8" fill="#262626" text-anchor="middle">7.4</text>
<path d="M181.5,338.6 v-1.2" stroke="#555555" stroke-width="0.8"/>
<text x="181.5" y="350.5" font-size="8" fill="#262626" text-anchor="middle">7.6</text>
<path d="M202.1,338.6 v-1.2" stroke="#555555" stroke-width="0.8"/>
<text x="202.1" y="350.5" font-size="8" fill="#262626" text-anchor="middle">7.8</text>
<path d="M222.7,338.6 v-1.2" stroke="#555555" stroke-width="0.8"/>
<text x="222.7" y="350.5" font-size="8" fill="#262626" text-anchor="middle">8.0</text>
<path d="M243.3,338.6 v-1.2" stroke="#555555" stroke-width="0.8"/>
<text x="243.3" y="350.5" font-size="8" fill="#262626" text-anchor="middle">8.2</text>
<circle cx="187.8" cy="257.7" r="2.6" fill="#000"/>
<circle cx="184.1" cy="261.4" r="2.6" fill="#000"/>
<circle cx="182.5" cy="266.9" r="2.6" fill="#000"/>
<circle cx="181.7" cy="273.4" r="2.6" fill="#000"/>
<circle cx="181.1" cy="280.9" r="2.6" fill="#000"/>
<circle cx="181" cy="289.2" r="2.6" fill="#000"/>
<circle cx="181.2" cy="299" r="2.6" fill="#000"/>
<circle cx="181.4" cy="309" r="2.6" fill="#000"/>
<circle cx="181.7" cy="319.6" r="2.6" fill="#000"/>
<circle cx="181.7" cy="331.4" r="2.6" fill="#000"/>
<circle cx="196.3" cy="258.1" r="2.25" fill="none" stroke="#FF0000" stroke-width="1.35"/>
<circle cx="194.3" cy="262.2" r="2.25" fill="none" stroke="#FF0000" stroke-width="1.35"/>
<circle cx="191.7" cy="269.9" r="2.25" fill="none" stroke="#FF0000" stroke-width="1.35"/>
<circle cx="192.9" cy="293" r="2.25" fill="none" stroke="#FF0000" stroke-width="1.35"/>
<circle cx="195.1" cy="331.7" r="2.25" fill="none" stroke="#FF0000" stroke-width="1.35"/>
<path d="M219.9,254.65L222.7,259.4H217.1Z" fill="#000"/>
<path d="M203.9,258.45L206.7,263.2H201.1Z" fill="#000"/>
<path d="M193.9,263.75L196.7,268.5H191.1Z" fill="#000"/>
<path d="M189.2,270.25L192,275H186.4Z" fill="#000"/>
<path d="M187.6,277.55L190.4,282.3H184.8Z" fill="#000"/>
<path d="M187.7,285.65L190.5,290.4H184.9Z" fill="#000"/>
<path d="M188.4,294.95L191.2,299.7H185.6Z" fill="#000"/>
<path d="M189,305.35L191.8,310.1H186.2Z" fill="#000"/>
<path d="M189,315.45L191.8,320.2H186.2Z" fill="#000"/>
<path d="M187.9,326.55L190.7,331.3H185.1Z" fill="#000"/>
<path d="M223.8,254.9L226.25,259.4H221.35Z" fill="none" stroke="#4DBEEE" stroke-width="1.5" stroke-linejoin="round"/>
<path d="M209.7,258.7L212.15,263.2H207.25Z" fill="none" stroke="#4DBEEE" stroke-width="1.5" stroke-linejoin="round"/>
<path d="M198.4,270.3L200.85,274.8H195.95Z" fill="none" stroke="#4DBEEE" stroke-width="1.5" stroke-linejoin="round"/>
<path d="M195.7,281L198.15,285.5H193.25Z" fill="none" stroke="#4DBEEE" stroke-width="1.5" stroke-linejoin="round"/>
<path d="M195.9,298.3L198.35,302.8H193.45Z" fill="none" stroke="#4DBEEE" stroke-width="1.5" stroke-linejoin="round"/>
<path d="M197.9,326.8L200.35,331.3H195.45Z" fill="none" stroke="#4DBEEE" stroke-width="1.5" stroke-linejoin="round"/>
<text x="212.4" y="358.6" font-size="9" fill="#262626" text-anchor="middle">pH (total)</text>
<path d="M283.2,256.3 V338.6 H386.2" fill="none" stroke="#555555" stroke-width="1.3"/>
<path d="M283.2,256.3 h1.2" stroke="#555555" stroke-width="0.8"/>
<text x="279.7" y="260" font-size="8" fill="#262626" text-anchor="end">0</text>
<path d="M283.2,276.88 h1.2" stroke="#555555" stroke-width="0.8"/>
<text x="279.7" y="280.57" font-size="8" fill="#262626" text-anchor="end">-20</text>
<path d="M283.2,297.45 h1.2" stroke="#555555" stroke-width="0.8"/>
<text x="279.7" y="301.15" font-size="8" fill="#262626" text-anchor="end">-40</text>
<path d="M283.2,318.02 h1.2" stroke="#555555" stroke-width="0.8"/>
<text x="279.7" y="321.72" font-size="8" fill="#262626" text-anchor="end">-60</text>
<path d="M283.2,338.6 h1.2" stroke="#555555" stroke-width="0.8"/>
<text x="279.7" y="342.3" font-size="8" fill="#262626" text-anchor="end">-80</text>
<path d="M283.2,338.6 v-1.2" stroke="#555555" stroke-width="0.8"/>
<text x="283.2" y="350.5" font-size="8" fill="#262626" text-anchor="middle">7.4</text>
<path d="M303.8,338.6 v-1.2" stroke="#555555" stroke-width="0.8"/>
<text x="303.8" y="350.5" font-size="8" fill="#262626" text-anchor="middle">7.6</text>
<path d="M324.4,338.6 v-1.2" stroke="#555555" stroke-width="0.8"/>
<text x="324.4" y="350.5" font-size="8" fill="#262626" text-anchor="middle">7.8</text>
<path d="M345,338.6 v-1.2" stroke="#555555" stroke-width="0.8"/>
<text x="345" y="350.5" font-size="8" fill="#262626" text-anchor="middle">8.0</text>
<path d="M365.6,338.6 v-1.2" stroke="#555555" stroke-width="0.8"/>
<text x="365.6" y="350.5" font-size="8" fill="#262626" text-anchor="middle">8.2</text>
<circle cx="310.1" cy="257.4" r="1.95" fill="#000"/>
<circle cx="310.1" cy="259.4" r="1.95" fill="#000"/>
<circle cx="310.1" cy="261.4" r="1.95" fill="#000"/>
<circle cx="307.1" cy="265.9" r="2.6" fill="#000"/>
<circle cx="298.1" cy="271.8" r="2.6" fill="#000"/>
<circle cx="299.3" cy="278.9" r="2.6" fill="#000"/>
<circle cx="299" cy="286.6" r="2.6" fill="#000"/>
<circle cx="295.7" cy="295.2" r="2.6" fill="#000"/>
<circle cx="291.7" cy="304.4" r="2.6" fill="#000"/>
<circle cx="290.5" cy="313.9" r="2.6" fill="#000"/>
<circle cx="292.1" cy="324.5" r="2.6" fill="#000"/>
<circle cx="326.2" cy="258.4" r="2.25" fill="none" stroke="#FF0000" stroke-width="1.35"/>
<circle cx="318.3" cy="262.8" r="2.25" fill="none" stroke="#FF0000" stroke-width="1.35"/>
<circle cx="313.6" cy="269.9" r="2.25" fill="none" stroke="#FF0000" stroke-width="1.35"/>
<circle cx="311.2" cy="283.5" r="2.25" fill="none" stroke="#FF0000" stroke-width="1.35"/>
<circle cx="305.1" cy="323.9" r="2.25" fill="none" stroke="#FF0000" stroke-width="1.35"/>
<path d="M344.5,254.65L347.3,259.4H341.7Z" fill="#000"/>
<path d="M338.8,258.15L341.6,262.9H336Z" fill="#000"/>
<path d="M298.8,263.35L301.6,268.1H296Z" fill="#000"/>
<path d="M299.8,269.85L302.6,274.6H297Z" fill="#000"/>
<path d="M301.4,276.75L304.2,281.5H298.6Z" fill="#000"/>
<path d="M301.5,284.15L304.3,288.9H298.7Z" fill="#000"/>
<path d="M300.9,292.65L303.7,297.4H298.1Z" fill="#000"/>
<path d="M300.9,302.45L303.7,307.2H298.1Z" fill="#000"/>
<path d="M303.3,312.25L306.1,317H300.5Z" fill="#000"/>
<path d="M304.9,322.45L307.7,327.2H302.1Z" fill="#000"/>
<path d="M333.8,259.5L336.25,264H331.35Z" fill="none" stroke="#4DBEEE" stroke-width="1.5" stroke-linejoin="round"/>
<path d="M310.7,266L313.15,270.5H308.25Z" fill="none" stroke="#4DBEEE" stroke-width="1.5" stroke-linejoin="round"/>
<path d="M305.7,294.8L308.15,299.3H303.25Z" fill="none" stroke="#4DBEEE" stroke-width="1.5" stroke-linejoin="round"/>
<path d="M304.9,323.4L307.35,327.9H302.45Z" fill="none" stroke="#4DBEEE" stroke-width="1.5" stroke-linejoin="round"/>
<text x="334.7" y="358.6" font-size="9" fill="#262626" text-anchor="middle">pH (total)</text>
<path d="M405.5,256.3 V338.6 H508.5" fill="none" stroke="#555555" stroke-width="1.3"/>
<path d="M405.5,256.3 h1.2" stroke="#555555" stroke-width="0.8"/>
<text x="402" y="260" font-size="8" fill="#262626" text-anchor="end">0</text>
<path d="M405.5,297.45 h1.2" stroke="#555555" stroke-width="0.8"/>
<text x="402" y="301.15" font-size="8" fill="#262626" text-anchor="end">-50</text>
<path d="M405.5,338.6 h1.2" stroke="#555555" stroke-width="0.8"/>
<text x="402" y="342.3" font-size="8" fill="#262626" text-anchor="end">-100</text>
<path d="M405.5,338.6 v-1.2" stroke="#555555" stroke-width="0.8"/>
<text x="405.5" y="350.5" font-size="8" fill="#262626" text-anchor="middle">7.4</text>
<path d="M426.1,338.6 v-1.2" stroke="#555555" stroke-width="0.8"/>
<text x="426.1" y="350.5" font-size="8" fill="#262626" text-anchor="middle">7.6</text>
<path d="M446.7,338.6 v-1.2" stroke="#555555" stroke-width="0.8"/>
<text x="446.7" y="350.5" font-size="8" fill="#262626" text-anchor="middle">7.8</text>
<path d="M467.3,338.6 v-1.2" stroke="#555555" stroke-width="0.8"/>
<text x="467.3" y="350.5" font-size="8" fill="#262626" text-anchor="middle">8.0</text>
<path d="M487.9,338.6 v-1.2" stroke="#555555" stroke-width="0.8"/>
<text x="487.9" y="350.5" font-size="8" fill="#262626" text-anchor="middle">8.2</text>
<circle cx="434.9" cy="257.7" r="2.6" fill="#000"/>
<circle cx="431.7" cy="261" r="2.6" fill="#000"/>
<circle cx="429.5" cy="266.1" r="2.6" fill="#000"/>
<circle cx="427.2" cy="272.4" r="2.6" fill="#000"/>
<circle cx="425.2" cy="279.7" r="2.6" fill="#000"/>
<circle cx="424.1" cy="287.8" r="2.6" fill="#000"/>
<circle cx="423.9" cy="296.8" r="2.6" fill="#000"/>
<circle cx="423.9" cy="306.2" r="2.6" fill="#000"/>
<circle cx="423.6" cy="316.3" r="2.6" fill="#000"/>
<circle cx="423.7" cy="327.2" r="2.6" fill="#000"/>
<circle cx="444.7" cy="261.2" r="2.25" fill="none" stroke="#FF0000" stroke-width="1.35"/>
<circle cx="443" cy="268.5" r="2.25" fill="none" stroke="#FF0000" stroke-width="1.35"/>
<circle cx="434.4" cy="283" r="2.25" fill="none" stroke="#FF0000" stroke-width="1.35"/>
<circle cx="430.7" cy="327.6" r="2.25" fill="none" stroke="#FF0000" stroke-width="1.35"/>
<path d="M470.4,254.85L473.2,259.6H467.6Z" fill="#000"/>
<path d="M457.5,258.45L460.3,263.2H454.7Z" fill="#000"/>
<path d="M436.3,263.35L439.1,268.1H433.5Z" fill="#000"/>
<path d="M424.6,269.45L427.4,274.2H421.8Z" fill="#000"/>
<path d="M426.5,277.15L429.3,281.9H423.7Z" fill="#000"/>
<path d="M426.2,285.05L429,289.8H423.4Z" fill="#000"/>
<path d="M426.4,294.05L429.2,298.8H423.6Z" fill="#000"/>
<path d="M426.4,303.45L429.2,308.2H423.6Z" fill="#000"/>
<path d="M426,313.45L428.8,318.2H423.2Z" fill="#000"/>
<path d="M423.7,324.45L426.5,329.2H420.9Z" fill="#000"/>
<path d="M494,261.6L496.45,266.1H491.55Z" fill="none" stroke="#4DBEEE" stroke-width="1.5" stroke-linejoin="round"/>
<path d="M432.5,269.2L434.95,273.7H430.05Z" fill="none" stroke="#4DBEEE" stroke-width="1.5" stroke-linejoin="round"/>
<path d="M432.9,298.2L435.35,302.7H430.45Z" fill="none" stroke="#4DBEEE" stroke-width="1.5" stroke-linejoin="round"/>
<path d="M423.7,324.7L426.15,329.2H421.25Z" fill="none" stroke="#4DBEEE" stroke-width="1.5" stroke-linejoin="round"/>
<text x="457" y="358.6" font-size="9" fill="#262626" text-anchor="middle">pH (total)</text>
<path d="M38.6,374.45 V456.75 H141.6" fill="none" stroke="#555555" stroke-width="1.3"/>
<path d="M38.6,374.45 h1.2" stroke="#555555" stroke-width="0.8"/>
<text x="35.1" y="378.15" font-size="8" fill="#262626" text-anchor="end">0</text>
<path d="M38.6,395.02 h1.2" stroke="#555555" stroke-width="0.8"/>
<text x="35.1" y="398.72" font-size="8" fill="#262626" text-anchor="end">-20</text>
<path d="M38.6,415.6 h1.2" stroke="#555555" stroke-width="0.8"/>
<text x="35.1" y="419.3" font-size="8" fill="#262626" text-anchor="end">-40</text>
<path d="M38.6,436.17 h1.2" stroke="#555555" stroke-width="0.8"/>
<text x="35.1" y="439.87" font-size="8" fill="#262626" text-anchor="end">-60</text>
<path d="M38.6,456.75 h1.2" stroke="#555555" stroke-width="0.8"/>
<text x="35.1" y="460.45" font-size="8" fill="#262626" text-anchor="end">-80</text>
<path d="M38.6,456.75 v-1.2" stroke="#555555" stroke-width="0.8"/>
<text x="38.6" y="468.65" font-size="8" fill="#262626" text-anchor="middle">0</text>
<path d="M72.93,456.75 v-1.2" stroke="#555555" stroke-width="0.8"/>
<text x="72.93" y="468.65" font-size="8" fill="#262626" text-anchor="middle">1</text>
<path d="M107.27,456.75 v-1.2" stroke="#555555" stroke-width="0.8"/>
<text x="107.27" y="468.65" font-size="8" fill="#262626" text-anchor="middle">2</text>
<path d="M141.6,456.75 v-1.2" stroke="#555555" stroke-width="0.8"/>
<text x="141.6" y="468.65" font-size="8" fill="#262626" text-anchor="middle">3</text>
<circle cx="59.7" cy="375.3" r="2.6" fill="#000"/>
<circle cx="59.5" cy="378.6" r="2.6" fill="#000"/>
<circle cx="59.5" cy="383" r="2.6" fill="#000"/>
<circle cx="59.1" cy="389.1" r="2.6" fill="#000"/>
<circle cx="58.7" cy="395.6" r="2.6" fill="#000"/>
<circle cx="58.6" cy="403" r="2.6" fill="#000"/>
<circle cx="58.5" cy="411.2" r="2.6" fill="#000"/>
<circle cx="58.5" cy="419.3" r="2.6" fill="#000"/>
<circle cx="58.5" cy="428.7" r="2.6" fill="#000"/>
<circle cx="58.3" cy="438.8" r="2.6" fill="#000"/>
<circle cx="64.9" cy="375.7" r="2.25" fill="none" stroke="#FF0000" stroke-width="1.35"/>
<circle cx="64.6" cy="380.4" r="2.25" fill="none" stroke="#FF0000" stroke-width="1.35"/>
<circle cx="64.1" cy="386.7" r="2.25" fill="none" stroke="#FF0000" stroke-width="1.35"/>
<circle cx="64.3" cy="399.3" r="2.25" fill="none" stroke="#FF0000" stroke-width="1.35"/>
<circle cx="66.8" cy="438.8" r="2.25" fill="none" stroke="#FF0000" stroke-width="1.35"/>
<path d="M79.2,372.75L82,377.5H76.4Z" fill="#000"/>
<path d="M79.2,375.65L82,380.4H76.4Z" fill="#000"/>
<path d="M71.9,380.45L74.7,385.2H69.1Z" fill="#000"/>
<path d="M68.8,386.15L71.6,390.9H66Z" fill="#000"/>
<path d="M67.8,392.65L70.6,397.4H65Z" fill="#000"/>
<path d="M67,399.65L69.8,404.4H64.2Z" fill="#000"/>
<path d="M65.9,407.85L68.7,412.6H63.1Z" fill="#000"/>
<path d="M65.6,415.95L68.4,420.7H62.8Z" fill="#000"/>
<path d="M65.6,425.25L68.4,430H62.8Z" fill="#000"/>
<path d="M64.4,434.65L67.2,439.4H61.6Z" fill="#000"/>
<path d="M98,376.2L100.45,380.7H95.55Z" fill="none" stroke="#4DBEEE" stroke-width="1.5" stroke-linejoin="round"/>
<path d="M96.4,382.8L98.85,387.3H93.95Z" fill="none" stroke="#4DBEEE" stroke-width="1.5" stroke-linejoin="round"/>
<path d="M80.2,409.3L82.65,413.8H77.75Z" fill="none" stroke="#4DBEEE" stroke-width="1.5" stroke-linejoin="round"/>
<path d="M79.9,434.9L82.35,439.4H77.45Z" fill="none" stroke="#4DBEEE" stroke-width="1.5" stroke-linejoin="round"/>
<text x="90.4" y="476.75" font-size="9" fill="#262626" text-anchor="middle">Ω<tspan font-size="8" dy="3.8">A</tspan></text>
<text transform="translate(19.2,415.6) rotate(-90)" x="0" y="0" font-size="9" fill="#262626" text-anchor="middle">Depth (m)</text>
<path d="M160.9,374.45 V456.75 H263.9" fill="none" stroke="#555555" stroke-width="1.3"/>
<path d="M160.9,374.45 h1.2" stroke="#555555" stroke-width="0.8"/>
<text x="157.4" y="378.15" font-size="8" fill="#262626" text-anchor="end">0</text>
<path d="M160.9,395.02 h1.2" stroke="#555555" stroke-width="0.8"/>
<text x="157.4" y="398.72" font-size="8" fill="#262626" text-anchor="end">-30</text>
<path d="M160.9,415.6 h1.2" stroke="#555555" stroke-width="0.8"/>
<text x="157.4" y="419.3" font-size="8" fill="#262626" text-anchor="end">-60</text>
<path d="M160.9,436.17 h1.2" stroke="#555555" stroke-width="0.8"/>
<text x="157.4" y="439.87" font-size="8" fill="#262626" text-anchor="end">-90</text>
<path d="M160.9,456.75 h1.2" stroke="#555555" stroke-width="0.8"/>
<text x="157.4" y="460.45" font-size="8" fill="#262626" text-anchor="end">-120</text>
<path d="M160.9,456.75 v-1.2" stroke="#555555" stroke-width="0.8"/>
<text x="160.9" y="468.65" font-size="8" fill="#262626" text-anchor="middle">0</text>
<path d="M195.23,456.75 v-1.2" stroke="#555555" stroke-width="0.8"/>
<text x="195.23" y="468.65" font-size="8" fill="#262626" text-anchor="middle">1</text>
<path d="M229.57,456.75 v-1.2" stroke="#555555" stroke-width="0.8"/>
<text x="229.57" y="468.65" font-size="8" fill="#262626" text-anchor="middle">2</text>
<path d="M263.9,456.75 v-1.2" stroke="#555555" stroke-width="0.8"/>
<text x="263.9" y="468.65" font-size="8" fill="#262626" text-anchor="middle">3</text>
<circle cx="182.2" cy="375.7" r="2.6" fill="#000"/>
<circle cx="182.5" cy="379.4" r="2.6" fill="#000"/>
<circle cx="181.9" cy="384.7" r="2.6" fill="#000"/>
<circle cx="181.9" cy="391.6" r="2.6" fill="#000"/>
<circle cx="181.7" cy="399.3" r="2.6" fill="#000"/>
<circle cx="181.7" cy="407.5" r="2.6" fill="#000"/>
<circle cx="182" cy="417.3" r="2.6" fill="#000"/>
<circle cx="182.2" cy="427.4" r="2.6" fill="#000"/>
<circle cx="182.2" cy="438" r="2.6" fill="#000"/>
<circle cx="182.4" cy="449.8" r="2.6" fill="#000"/>
<circle cx="189.2" cy="376.1" r="2.25" fill="none" stroke="#FF0000" stroke-width="1.35"/>
<circle cx="188" cy="380.6" r="2.25" fill="none" stroke="#FF0000" stroke-width="1.35"/>
<circle cx="186.4" cy="387.5" r="2.25" fill="none" stroke="#FF0000" stroke-width="1.35"/>
<circle cx="187.3" cy="411.2" r="2.25" fill="none" stroke="#FF0000" stroke-width="1.35"/>
<circle cx="188.9" cy="449.8" r="2.25" fill="none" stroke="#FF0000" stroke-width="1.35"/>
<path d="M214.6,373.05L217.4,377.8H211.8Z" fill="#000"/>
<path d="M199.4,376.85L202.2,381.6H196.6Z" fill="#000"/>
<path d="M192.1,382.15L194.9,386.9H189.3Z" fill="#000"/>
<path d="M188.8,388.65L191.6,393.4H186Z" fill="#000"/>
<path d="M188,395.95L190.8,400.7H185.2Z" fill="#000"/>
<path d="M188,403.75L190.8,408.5H185.2Z" fill="#000"/>
<path d="M188.3,412.65L191.1,417.4H185.5Z" fill="#000"/>
<path d="M188.3,422.85L191.1,427.6H185.5Z" fill="#000"/>
<path d="M188.3,433.05L191.1,437.8H185.5Z" fill="#000"/>
<path d="M187.7,444.45L190.5,449.2H184.9Z" fill="#000"/>
<path d="M221.3,373.1L223.75,377.6H218.85Z" fill="none" stroke="#4DBEEE" stroke-width="1.5" stroke-linejoin="round"/>
<path d="M205.3,376.9L207.75,381.4H202.85Z" fill="none" stroke="#4DBEEE" stroke-width="1.5" stroke-linejoin="round"/>
<path d="M195.3,388.9L197.75,393.4H192.85Z" fill="none" stroke="#4DBEEE" stroke-width="1.5" stroke-linejoin="round"/>
<path d="M193.1,399.2L195.55,403.7H190.65Z" fill="none" stroke="#4DBEEE" stroke-width="1.5" stroke-linejoin="round"/>
<path d="M193.4,416.6L195.85,421.1H190.95Z" fill="none" stroke="#4DBEEE" stroke-width="1.5" stroke-linejoin="round"/>
<path d="M195,444.7L197.45,449.2H192.55Z" fill="none" stroke="#4DBEEE" stroke-width="1.5" stroke-linejoin="round"/>
<text x="212.7" y="476.75" font-size="9" fill="#262626" text-anchor="middle">Ω<tspan font-size="8" dy="3.8">A</tspan></text>
<path d="M283.2,374.45 V456.75 H386.2" fill="none" stroke="#555555" stroke-width="1.3"/>
<path d="M283.2,374.45 h1.2" stroke="#555555" stroke-width="0.8"/>
<text x="279.7" y="378.15" font-size="8" fill="#262626" text-anchor="end">0</text>
<path d="M283.2,395.02 h1.2" stroke="#555555" stroke-width="0.8"/>
<text x="279.7" y="398.72" font-size="8" fill="#262626" text-anchor="end">-20</text>
<path d="M283.2,415.6 h1.2" stroke="#555555" stroke-width="0.8"/>
<text x="279.7" y="419.3" font-size="8" fill="#262626" text-anchor="end">-40</text>
<path d="M283.2,436.17 h1.2" stroke="#555555" stroke-width="0.8"/>
<text x="279.7" y="439.87" font-size="8" fill="#262626" text-anchor="end">-60</text>
<path d="M283.2,456.75 h1.2" stroke="#555555" stroke-width="0.8"/>
<text x="279.7" y="460.45" font-size="8" fill="#262626" text-anchor="end">-80</text>
<path d="M283.2,456.75 v-1.2" stroke="#555555" stroke-width="0.8"/>
<text x="283.2" y="468.65" font-size="8" fill="#262626" text-anchor="middle">0</text>
<path d="M317.53,456.75 v-1.2" stroke="#555555" stroke-width="0.8"/>
<text x="317.53" y="468.65" font-size="8" fill="#262626" text-anchor="middle">1</text>
<path d="M351.87,456.75 v-1.2" stroke="#555555" stroke-width="0.8"/>
<text x="351.87" y="468.65" font-size="8" fill="#262626" text-anchor="middle">2</text>
<path d="M386.2,456.75 v-1.2" stroke="#555555" stroke-width="0.8"/>
<text x="386.2" y="468.65" font-size="8" fill="#262626" text-anchor="middle">3</text>
<circle cx="305.9" cy="375.3" r="2.6" fill="#000"/>
<circle cx="305.9" cy="378.6" r="2.6" fill="#000"/>
<circle cx="304.6" cy="384.4" r="2.6" fill="#000"/>
<circle cx="301.8" cy="390" r="2.6" fill="#000"/>
<circle cx="302.6" cy="396.9" r="2.6" fill="#000"/>
<circle cx="302.4" cy="404.8" r="2.6" fill="#000"/>
<circle cx="301.2" cy="413.2" r="2.6" fill="#000"/>
<circle cx="299.5" cy="422.6" r="2.6" fill="#000"/>
<circle cx="299.1" cy="432.3" r="2.6" fill="#000"/>
<circle cx="299.8" cy="442.7" r="2.6" fill="#000"/>
<circle cx="314" cy="376.5" r="2.25" fill="none" stroke="#FF0000" stroke-width="1.35"/>
<circle cx="311" cy="381.4" r="2.25" fill="none" stroke="#FF0000" stroke-width="1.35"/>
<circle cx="309.1" cy="388.3" r="2.25" fill="none" stroke="#FF0000" stroke-width="1.35"/>
<circle cx="308.7" cy="401.7" r="2.25" fill="none" stroke="#FF0000" stroke-width="1.35"/>
<circle cx="306.5" cy="442.4" r="2.25" fill="none" stroke="#FF0000" stroke-width="1.35"/>
<path d="M352.3,373.05L355.1,377.8H349.5Z" fill="#000"/>
<path d="M344.8,376.45L347.6,381.2H342Z" fill="#000"/>
<path d="M303.6,387.65L306.4,392.4H300.8Z" fill="#000"/>
<path d="M304.5,394.45L307.3,399.2H301.7Z" fill="#000"/>
<path d="M305.2,402.35L308,407.1H302.4Z" fill="#000"/>
<path d="M304,410.65L306.8,415.4H301.2Z" fill="#000"/>
<path d="M305.2,420.35L308,425.1H302.4Z" fill="#000"/>
<path d="M306.5,430.35L309.3,435.1H303.7Z" fill="#000"/>
<path d="M307,440.95L309.8,445.7H304.2Z" fill="#000"/>
<path d="M331.9,377.7L334.35,382.2H329.45Z" fill="none" stroke="#4DBEEE" stroke-width="1.5" stroke-linejoin="round"/>
<path d="M311.3,384.8L313.75,389.3H308.85Z" fill="none" stroke="#4DBEEE" stroke-width="1.5" stroke-linejoin="round"/>
<path d="M307.7,412.9L310.15,417.4H305.25Z" fill="none" stroke="#4DBEEE" stroke-width="1.5" stroke-linejoin="round"/>
<path d="M307.1,441.6L309.55,446.1H304.65Z" fill="none" stroke="#4DBEEE" stroke-width="1.5" stroke-linejoin="round"/>
<text x="335" y="476.75" font-size="9" fill="#262626" text-anchor="middle">Ω<tspan font-size="8" dy="3.8">A</tspan></text>
<path d="M405.5,374.45 V456.75 H508.5" fill="none" stroke="#555555" stroke-width="1.3"/>
<path d="M405.5,374.45 h1.2" stroke="#555555" stroke-width="0.8"/>
<text x="402" y="378.15" font-size="8" fill="#262626" text-anchor="end">0</text>
<path d="M405.5,415.6 h1.2" stroke="#555555" stroke-width="0.8"/>
<text x="402" y="419.3" font-size="8" fill="#262626" text-anchor="end">-50</text>
<path d="M405.5,456.75 h1.2" stroke="#555555" stroke-width="0.8"/>
<text x="402" y="460.45" font-size="8" fill="#262626" text-anchor="end">-100</text>
<path d="M405.5,456.75 v-1.2" stroke="#555555" stroke-width="0.8"/>
<text x="405.5" y="468.65" font-size="8" fill="#262626" text-anchor="middle">0</text>
<path d="M439.83,456.75 v-1.2" stroke="#555555" stroke-width="0.8"/>
<text x="439.83" y="468.65" font-size="8" fill="#262626" text-anchor="middle">1</text>
<path d="M474.17,456.75 v-1.2" stroke="#555555" stroke-width="0.8"/>
<text x="474.17" y="468.65" font-size="8" fill="#262626" text-anchor="middle">2</text>
<path d="M508.5,456.75 v-1.2" stroke="#555555" stroke-width="0.8"/>
<text x="508.5" y="468.65" font-size="8" fill="#262626" text-anchor="middle">3</text>
<circle cx="427.5" cy="375.3" r="2.6" fill="#000"/>
<circle cx="427" cy="378.6" r="2.6" fill="#000"/>
<circle cx="426.7" cy="384.4" r="2.6" fill="#000"/>
<circle cx="426.1" cy="390.8" r="2.6" fill="#000"/>
<circle cx="425.9" cy="397.7" r="2.6" fill="#000"/>
<circle cx="425.9" cy="406" r="2.6" fill="#000"/>
<circle cx="425.9" cy="414.9" r="2.6" fill="#000"/>
<circle cx="425.9" cy="424.4" r="2.6" fill="#000"/>
<circle cx="425.9" cy="434.8" r="2.6" fill="#000"/>
<circle cx="426" cy="445.5" r="2.6" fill="#000"/>
<circle cx="433.2" cy="379.4" r="2.25" fill="none" stroke="#FF0000" stroke-width="1.35"/>
<circle cx="432.4" cy="386.7" r="2.25" fill="none" stroke="#FF0000" stroke-width="1.35"/>
<circle cx="431.3" cy="401.3" r="2.25" fill="none" stroke="#FF0000" stroke-width="1.35"/>
<circle cx="429.8" cy="445.7" r="2.25" fill="none" stroke="#FF0000" stroke-width="1.35"/>
<path d="M465.6,373.05L468.4,377.8H462.8Z" fill="#000"/>
<path d="M452.2,376.45L455,381.2H449.4Z" fill="#000"/>
<path d="M435.6,382.15L438.4,386.9H432.8Z" fill="#000"/>
<path d="M428,388.45L430.8,393.2H425.2Z" fill="#000"/>
<path d="M428.3,395.55L431.1,400.3H425.5Z" fill="#000"/>
<path d="M428.7,403.25L431.5,408H425.9Z" fill="#000"/>
<path d="M428.9,412.35L431.7,417.1H426.1Z" fill="#000"/>
<path d="M428.6,421.85L431.4,426.6H425.8Z" fill="#000"/>
<path d="M428.6,432.25L431.4,437H425.8Z" fill="#000"/>
<path d="M428.5,442.45L431.3,447.2H425.7Z" fill="#000"/>
<path d="M490.3,379.6L492.75,384.1H487.85Z" fill="none" stroke="#4DBEEE" stroke-width="1.5" stroke-linejoin="round"/>
<path d="M431.3,388.1L433.75,392.6H428.85Z" fill="none" stroke="#4DBEEE" stroke-width="1.5" stroke-linejoin="round"/>
<path d="M432.6,416L435.05,420.5H430.15Z" fill="none" stroke="#4DBEEE" stroke-width="1.5" stroke-linejoin="round"/>
<path d="M426.5,442.8L428.95,447.3H424.05Z" fill="none" stroke="#4DBEEE" stroke-width="1.5" stroke-linejoin="round"/>
<text x="457.3" y="476.75" font-size="9" fill="#262626" text-anchor="middle">Ω<tspan font-size="8" dy="3.8">A</tspan></text>
<text x="90.1" y="17.7" font-size="9" font-weight="bold" fill="#000" text-anchor="middle">Gordon Point</text>
<text x="212.4" y="17.7" font-size="9" font-weight="bold" fill="#000" text-anchor="middle">Main Basin</text>
<text x="334.7" y="17.7" font-size="9" font-weight="bold" fill="#000" text-anchor="middle">Hood Canal</text>
<text x="457" y="17.7" font-size="9" font-weight="bold" fill="#000" text-anchor="middle">Saratoga Passage</text>
<circle cx="293.8" cy="60.4" r="2.6" fill="#000"/>
<text x="309.4" y="63.4" font-size="7.5" fill="#262626">Baseline - Feb</text>
<circle cx="293.8" cy="71" r="2.25" fill="none" stroke="#FF0000" stroke-width="1.35"/>
<text x="309.4" y="74" font-size="7.5" fill="#262626">Obs - Feb</text>
<path d="M293.8,78.85L296.6,83.6H291Z" fill="#000"/>
<text x="309.4" y="84.4" font-size="7.5" fill="#262626">Baseline - Aug</text>
<path d="M293.8,89.4L296.25,93.9H291.35Z" fill="none" stroke="#4DBEEE" stroke-width="1.5" stroke-linejoin="round"/>
<text x="309.4" y="94.7" font-size="7.5" fill="#262626">Obs - Aug</text>
</svg></body></html>
